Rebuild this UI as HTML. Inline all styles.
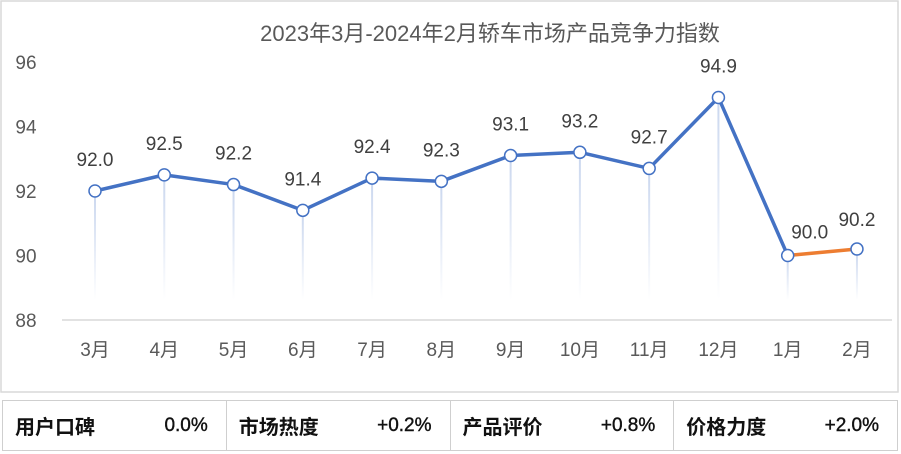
<!DOCTYPE html>
<html><head><meta charset="utf-8"><style>
body{margin:0;background:#fff;width:901px;height:454px;overflow:hidden;font-family:"Liberation Sans","Noto Sans CJK SC",sans-serif}
svg{position:absolute;left:0;top:0}
.tbl{position:absolute;left:2px;top:400px;width:896px;height:51px;border:1px solid #cfcfcf;display:flex;box-sizing:border-box}
.cell{flex:1;border-right:1px solid #cfcfcf;display:flex;justify-content:space-between;align-items:center;padding:0 18px 0 12px;font-size:20px;font-weight:bold;color:#111}
.cell:last-child{border-right:none}
.cell span:last-child{font-weight:normal;font-size:19px;-webkit-text-stroke:0.4px #111}
</style></head><body>
<svg width="901" height="454">
<defs><linearGradient id="dg" x1="0" y1="0" x2="0" y2="1"><stop offset="0" stop-color="#c9d6ee"/><stop offset="1" stop-color="#fff"/></linearGradient></defs>
<rect x="1" y="1" width="897" height="391" fill="#fff" stroke="#d9d9d9" stroke-width="1.5"/>
<text x="490" y="41" text-anchor="middle" font-size="22" fill="#595959">2023年3月-2024年2月轿车市场产品竞争力指数</text>
<g id="g"></g>
</svg>
<div class="tbl">
<div class="cell"><span>用户口碑</span><span>0.0%</span></div>
<div class="cell"><span>市场热度</span><span>+0.2%</span></div>
<div class="cell"><span>产品评价</span><span>+0.8%</span></div>
<div class="cell"><span>价格力度</span><span>+2.0%</span></div>
</div>
<script>
const categories=["3月","4月","5月","6月","7月","8月","9月","10月","11月","12月","1月","2月"];
const values=[92.0,92.5,92.2,91.4,92.4,92.3,93.1,93.2,92.7,94.9,90.0,90.2];
const yTicks=[88,90,92,94,96];
const NS="http://www.w3.org/2000/svg";
const g=document.getElementById('g');
const x=i=>95+i*69.27;
const y=v=>320-(v-88)*32.25;
function mk(t,a,p){const e=document.createElementNS(NS,t);for(const k in a)e.setAttribute(k,a[k]);(p||g).appendChild(e);return e;}
yTicks.forEach(v=>{const t=mk('text',{x:26,y:y(v)+7,'text-anchor':'middle','font-size':19,fill:'#595959'});t.textContent=v;

});
const ax=mk('line',{x1:62,x2:892,y1:320,y2:320,stroke:'#d9d9d9','stroke-width':1.5});


categories.forEach((c,i)=>{const t=mk('text',{x:x(i),y:356,'text-anchor':'middle','font-size':19,fill:'#595959'});t.textContent=c;


const d=mk('rect',{x:x(i)-1,y:y(values[i]),width:2,height:Math.max(0,300-y(values[i])),fill:'url(#dg)'});

});
const n=values.length;
let pts=values.slice(0,n-1).map((v,i)=>x(i)+','+y(v)).join(' ');
const l1=mk('polyline',{points:pts,fill:'none',stroke:'#4472c4','stroke-width':3.5,'stroke-linejoin':'round'});


const l2=mk('line',{x1:x(n-2),y1:y(values[n-2]),x2:x(n-1),y2:y(values[n-1]),stroke:'#ed7d31','stroke-width':3.5});


values.forEach((v,i)=>{const c=mk('circle',{cx:x(i),cy:y(v),r:6,fill:'#fff',stroke:'#4472c4','stroke-width':1.5});


let lx=x(i),ly=y(v)-25;if(i===n-2){lx=x(i)+22;ly=y(v)-17;}if(i===n-1){ly=y(v)-23;}
const t=mk('text',{x:lx,y:ly,'text-anchor':'middle','font-size':19,fill:'#404040'});t.textContent=v.toFixed(1);

});
</script>
</body></html>
